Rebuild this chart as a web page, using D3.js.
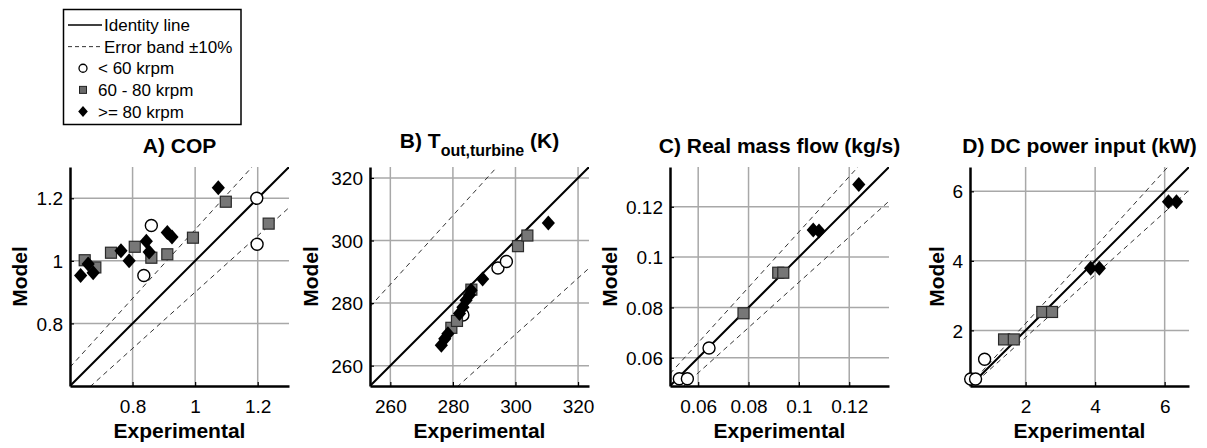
<!DOCTYPE html>
<html>
<head>
<meta charset="utf-8">
<script src="https://cdn.jsdelivr.net/npm/d3@7"></script>
<style>
  body { margin: 0; background: #fff; }
  text { font-family: "Liberation Sans", Arial, Helvetica, sans-serif; }
</style>
</head>
<body>
<div id="chart"></div>
<script>
// ---- data: [experimental, model] ----
const copLow  = [[0.836, 0.953], [0.860, 1.113], [1.197, 1.200], [1.198, 1.053]];
const copMid  = [[0.647, 1.002], [0.681, 0.979], [0.731, 1.026], [0.807, 1.045], [0.860, 1.010],
                 [0.911, 1.021], [0.993, 1.074], [1.098, 1.189], [1.235, 1.119]];
const copHigh = [[0.634, 0.953], [0.658, 0.990], [0.674, 0.962], [0.763, 1.032], [0.789, 1.000],
                 [0.844, 1.063], [0.853, 1.028], [0.911, 1.091], [0.926, 1.076], [1.074, 1.234]];

const tempLow  = [[283.2, 276.2], [294.4, 291.2], [297.1, 293.3]];
const tempMid  = [[279.5, 272.1], [281.3, 274.3], [285.9, 284.3], [300.8, 298.2], [303.8, 301.6]];
const tempHigh = [[276.3, 266.5], [277.4, 268.6], [278.4, 270.2], [282.1, 276.7], [283.2, 278.7],
                  [284.2, 280.9], [285.3, 282.6], [285.8, 284.1], [289.5, 287.7], [310.5, 305.6]];

const flowLow  = [[0.0525, 0.0517], [0.0557, 0.0517], [0.0643, 0.0639]];
const flowMid  = [[0.0780, 0.0777], [0.0918, 0.0938], [0.0938, 0.0938]];
const flowHigh = [[0.1057, 0.1108], [0.1080, 0.1104], [0.1238, 0.1288]];

const powerLow  = [[0.42, 0.60], [0.56, 0.60], [0.82, 1.17]];
const powerMid  = [[1.38, 1.74], [1.66, 1.74], [2.48, 2.53], [2.76, 2.53]];
const powerHigh = [[3.87, 3.79], [4.12, 3.79], [6.11, 5.70], [6.34, 5.70]];

const domains = [[0.6, 1.3], [253.5, 323.5], [0.0488, 0.1358], [0.4, 6.7]];
const tickVals = [[0.8, 1, 1.2], [260, 280, 300, 320], [0.06, 0.08, 0.1, 0.12], [2, 4, 6]];
const titles = ["A) COP", "B) T|out,turbine| (K)", "C) Real mass flow (kg/s)", "D) DC power input (kW)"];
const bandPct = 0.10;

const legendLabels = ["Identity line", "Error band \u00b110%", "< 60 krpm", "60 - 80 krpm", ">= 80 krpm"];

// ---- layout ----
const width = 1207, height = 448;
const plotTop = 167, plotSize = 219;
const plotLefts = [70, 370, 670, 970];
const ylabelOffset = [43, 52, 53, 26];

const svg = d3.select("#chart").append("svg")
    .attr("width", width).attr("height", height);

const diamondPath = s => `M0,${-s}L${s * 0.88},0L0,${s}L${-s * 0.88},0Z`;

function drawMarkers(g, pts, kind, x, y) {
    if (kind === "circle") {
        g.selectAll(null).data(pts).enter().append("circle")
            .attr("cx", d => x(d[0])).attr("cy", d => y(d[1])).attr("r", 6)
            .attr("fill", "#fff").attr("stroke", "#000").attr("stroke-width", 1.4);
    } else if (kind === "square") {
        g.selectAll(null).data(pts).enter().append("rect")
            .attr("x", d => x(d[0]) - 5.5).attr("y", d => y(d[1]) - 5.5)
            .attr("width", 11).attr("height", 11)
            .attr("fill", "#777").attr("stroke", "#2a2a2a").attr("stroke-width", 1.2);
    } else {
        g.selectAll(null).data(pts).enter().append("path")
            .attr("transform", d => `translate(${x(d[0])},${y(d[1])})`)
            .attr("d", diamondPath(7.5)).attr("fill", "#000");
    }
}

const series = [
    [copLow, copMid, copHigh],
    [tempLow, tempMid, tempHigh],
    [flowLow, flowMid, flowHigh],
    [powerLow, powerMid, powerHigh]
];

series.forEach((ser, i) => {
    const left = plotLefts[i];
    const [d0, d1] = domains[i];
    const x = d3.scaleLinear().domain(domains[i]).range([left, left + plotSize]);
    const y = d3.scaleLinear().domain(domains[i]).range([plotTop + plotSize, plotTop]);
    const g = svg.append("g");

    // grid
    g.selectAll(null).data(tickVals[i]).enter().append("line")
        .attr("x1", d => x(d)).attr("x2", d => x(d))
        .attr("y1", plotTop).attr("y2", plotTop + plotSize)
        .attr("stroke", "#a8a8a8").attr("stroke-width", 1.5);
    g.selectAll(null).data(tickVals[i]).enter().append("line")
        .attr("y1", d => y(d)).attr("y2", d => y(d))
        .attr("x1", left).attr("x2", left + plotSize)
        .attr("stroke", "#a8a8a8").attr("stroke-width", 1.5);

    // clipped reference lines
    const clipId = "clip" + i;
    svg.append("clipPath").attr("id", clipId).append("rect")
        .attr("x", left).attr("y", plotTop).attr("width", plotSize).attr("height", plotSize);
    const lines = g.append("g").attr("clip-path", `url(#${clipId})`);
    const lineGen = d3.line().x(d => x(d[0])).y(d => y(d[1]));
    [1 + bandPct, 1 - bandPct].forEach(f => {
        lines.append("path")
            .attr("d", lineGen([[d0, d0 * f], [d1, d1 * f]]))
            .attr("stroke", "#333").attr("stroke-width", 1).attr("stroke-dasharray", "5,4")
            .attr("fill", "none");
    });
    lines.append("path")
        .attr("d", lineGen([[d0, d0], [d1, d1]]))
        .attr("stroke", "#000").attr("stroke-width", 2).attr("fill", "none");

    // axes
    const fmt = d => String(d);
    const xAxis = g.append("g").attr("transform", `translate(0,${plotTop + plotSize})`)
        .call(d3.axisBottom(x).tickValues(tickVals[i]).tickFormat(fmt)
            .tickSizeInner(-4).tickSizeOuter(0).tickPadding(14));
    const yAxis = g.append("g").attr("transform", `translate(${left},0)`)
        .call(d3.axisLeft(y).tickValues(tickVals[i]).tickFormat(fmt)
            .tickSizeInner(-4).tickSizeOuter(0).tickPadding(7));
    [xAxis, yAxis].forEach(a => {
        a.select(".domain").attr("stroke", "#000").attr("stroke-width", 2.5);
        a.selectAll(".tick line").attr("stroke", "#000").attr("stroke-width", 1.2);
        a.selectAll(".tick text").attr("font-size", 19).attr("fill", "#000")
            .style("font-family", '"Liberation Sans", Arial, sans-serif');
    });
    yAxis.selectAll(".tick text").attr("dy", "0.35em");

    // markers
    drawMarkers(g, ser[0], "circle", x, y);
    drawMarkers(g, ser[1], "square", x, y);
    drawMarkers(g, ser[2], "diamond", x, y);

    // labels
    const cx = left + plotSize / 2;
    g.append("text").attr("x", cx).attr("y", 438).attr("text-anchor", "middle")
        .attr("font-size", 21).attr("font-weight", "bold").text("Experimental");
    g.append("text")
        .attr("transform", `translate(${left - ylabelOffset[i]},${plotTop + plotSize / 2}) rotate(-90)`)
        .attr("text-anchor", "middle").attr("font-size", 21).attr("font-weight", "bold").text("Model");

    const parts = titles[i].split("|");
    const t = g.append("text").attr("x", cx).attr("text-anchor", "middle")
        .attr("font-size", 21).attr("font-weight", "bold");
    if (parts.length === 1) {
        t.attr("y", 153).text(parts[0]);
    } else {
        t.attr("y", 148);
        t.append("tspan").text(parts[0]);
        t.append("tspan").attr("font-size", 16).attr("dy", 8).text(parts[1]);
        t.append("tspan").attr("dy", -8).text(parts[2]);
    }
});

// ---- legend ----
const lg = svg.append("g");
lg.append("rect").attr("x", 63.5).attr("y", 9.5).attr("width", 177.5).attr("height", 115)
    .attr("fill", "#fff").attr("stroke", "#000").attr("stroke-width", 1.5);
const rowY = d3.scalePoint().domain(legendLabels).range([25, 111.5]);
legendLabels.forEach((lab, k) => {
    const yy = rowY(lab);
    if (k < 2) {
        lg.append("line").attr("x1", 68).attr("x2", 102).attr("y1", yy).attr("y2", yy)
            .attr("stroke", k === 0 ? "#000" : "#333")
            .attr("stroke-width", k === 0 ? 1.5 : 1)
            .attr("stroke-dasharray", k === 0 ? null : "4,3");
    } else if (k === 2) {
        lg.append("circle").attr("cx", 83).attr("cy", yy).attr("r", 4)
            .attr("fill", "#fff").attr("stroke", "#000").attr("stroke-width", 1.3);
    } else if (k === 3) {
        lg.append("rect").attr("x", 79.5).attr("y", yy - 3.5).attr("width", 7).attr("height", 7)
            .attr("fill", "#6a6a6a").attr("stroke", "#222").attr("stroke-width", 1);
    } else {
        lg.append("path").attr("transform", `translate(83,${yy})`).attr("d", diamondPath(5.5)).attr("fill", "#000");
    }
    lg.append("text").attr("x", k < 2 ? 104 : 98).attr("y", yy + 6)
        .attr("font-size", 17).text(lab);
});
</script>
</body>
</html>
